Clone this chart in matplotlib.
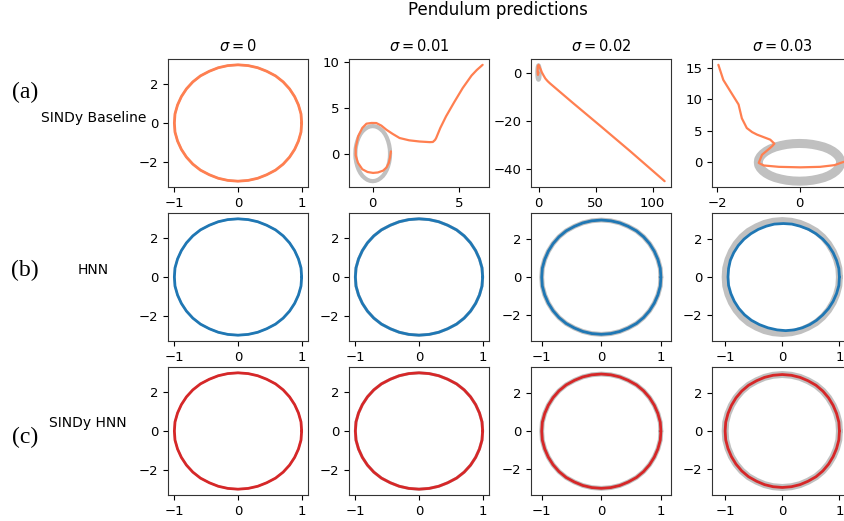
import numpy as np
import matplotlib
matplotlib.use("Agg")
import matplotlib.pyplot as plt
from matplotlib.ticker import MultipleLocator

# noise levels (column titles) and row labels
sigmas = ["0", "0.01", "0.02", "0.03"]
row_tags = ["(a)", "(b)", "(c)"]
row_names = ["SINDy Baseline", "HNN", "SINDy HNN"]

# true pendulum orbit (q, p)
orbit_q = [1.0, 0.99, 0.95, 0.89, 0.81, 0.71, 0.59, 0.45, 0.31, 0.16, 0.0,
           -0.16, -0.31, -0.45, -0.59, -0.71, -0.81, -0.89, -0.95, -0.99, -1.0,
           -0.99, -0.95, -0.89, -0.81, -0.71, -0.59, -0.45, -0.31, -0.16, 0.0,
           0.16, 0.31, 0.45, 0.59, 0.71, 0.81, 0.89, 0.95, 0.99, 1.0]
orbit_p = [0.0, 0.47, 0.93, 1.36, 1.76, 2.12, 2.43, 2.67, 2.85, 2.96, 3.0,
           2.96, 2.85, 2.67, 2.43, 2.12, 1.76, 1.36, 0.93, 0.47, 0.0,
           -0.47, -0.93, -1.36, -1.76, -2.12, -2.43, -2.67, -2.85, -2.96, -3.0,
           -2.96, -2.85, -2.67, -2.43, -2.12, -1.76, -1.36, -0.93, -0.47, 0.0]

# HNN at sigma=0.03 comes out a bit smaller
hnn03_q = [1.0, 0.99, 0.95, 0.89, 0.81, 0.71, 0.59, 0.46, 0.31, 0.17, 0.02,
           -0.14, -0.28, -0.42, -0.55, -0.67, -0.77, -0.85, -0.91, -0.94, -0.95,
           -0.94, -0.9, -0.84, -0.76, -0.66, -0.54, -0.4, -0.25, -0.09, 0.06,
           0.21, 0.35, 0.48, 0.6, 0.71, 0.81, 0.89, 0.95, 0.99, 1.0]
hnn03_p = [0.0, 0.45, 0.88, 1.29, 1.67, 2.01, 2.3, 2.53, 2.7, 2.81, 2.84,
           2.81, 2.7, 2.53, 2.3, 2.01, 1.67, 1.29, 0.88, 0.45, 0.0,
           -0.45, -0.88, -1.29, -1.67, -2.01, -2.3, -2.53, -2.7, -2.81, -2.85,
           -2.81, -2.7, -2.53, -2.3, -2.01, -1.67, -1.29, -0.88, -0.45, 0.0]

# SINDy baseline predictions that blow up
base01_q = [1.05, 1.0, 0.93, 0.8, 0.6, 0.3, 0.02, -0.3, -0.6, -0.85, -0.98, -0.98,
            -0.84, -0.6, -0.36, -0.07, 0.21, 0.5, 0.79, 1.15, 1.55, 2.1, 2.7,
            3.3, 3.47, 3.6, 3.66, 3.9, 4.23, 4.7, 5.19, 5.7, 6.0, 6.34]
base01_p = [0.25, -0.4, -1.0, -1.5, -1.85, -2.05, -2.1, -2.0, -1.7, -1.0, -0.2, 0.65,
            1.88, 2.8, 3.26, 3.34, 3.33, 3.05, 2.6, 2.15, 1.7, 1.45, 1.32,
            1.25, 1.27, 1.5, 1.7, 2.8, 4.06, 5.6, 7.14, 8.5, 9.1, 9.67]

base02_q = [0.0, -0.5, -0.8, -0.6, 0.0, 0.5, 1.0, 2.0, 3.0, 4.5, 6.0, 8.0,
            10.0, 30.0, 54.4, 80.0, 110.5]
base02_p = [0.0, -1.0, 0.5, 2.5, 3.2, 2.8, 2.2, 1.2, 0.0, -1.3, -2.5, -3.6,
            -4.5, -12.6, -22.3, -32.6, -45.2]

base03_q = [-1.97, -1.85, -1.68, -1.48, -1.4, -1.28, -1.15, -1.03, -0.85, -0.71,
            -0.61, -0.66, -0.71, -0.91, -0.99, -0.87, -0.5, 0.02, 0.5, 0.85, 1.04, 1.12]
base03_p = [15.5, 13.1, 11.3, 9.2, 7.0, 5.45, 4.8, 4.4, 3.95, 3.6,
            2.97, 2.6, 2.3, 1.2, -0.1, -0.5, -0.72, -0.8, -0.72, -0.45, 0.0, 0.15]

preds = [
    [(orbit_q, orbit_p), (base01_q, base01_p), (base02_q, base02_p), (base03_q, base03_p)],
    [(orbit_q, orbit_p), (orbit_q, orbit_p), (orbit_q, orbit_p), (hnn03_q, hnn03_p)],
    [(orbit_q, orbit_p), (orbit_q, orbit_p), (orbit_q, orbit_p), (orbit_q, orbit_p)],
]
row_colors = ["#ff7f50", "#1f77b4", "#d62728"]
noise_xlim = [None, None, (-1.18, 1.17), (-1.23, 1.22)]
noise_ylim = [None, None, (-3.35, 3.37), (-3.4, 3.4)]

W, H = 844, 521
fig = plt.figure(figsize=(W / 100, H / 100), dpi=100)

lefts = [168, 349, 531, 712]
tops = [59, 213, 367]
aw, ah = 140, 128

for r in range(3):
    for c in range(4):
        ax = fig.add_axes([lefts[c] / W, 1 - (tops[r] + ah) / H, aw / W, ah / H])
        if r == 0:
            lw_gray = [1.5, 3.0, 3.0, 6.5][c]
        else:
            lw_gray = [1.5, 2.2, 3.5, 5.0][c]
        ax.plot(orbit_q, orbit_p, color="#c0c0c0", lw=lw_gray,
                solid_joinstyle="round", solid_capstyle="round")
        q, p = preds[r][c]
        ax.plot(q, p, color=row_colors[r], lw=1.6 if r == 0 and c > 0 else 2.0,
                solid_capstyle="round")
        if r > 0 and noise_xlim[c] is not None:
            ax.set_xlim(*noise_xlim[c])
            ax.set_ylim(*noise_ylim[c])
        if r == 0 and c == 3:
            ax.xaxis.set_major_locator(MultipleLocator(2))
            ax.yaxis.set_major_locator(MultipleLocator(5))
        elif r > 0 or c == 0:
            ax.xaxis.set_major_locator(MultipleLocator(1))
        ax.tick_params(labelsize=9.5)
        for s in ax.spines.values():
            s.set_color("#333333")
        if r == 0:
            ax.set_title(r"$\sigma = %s$" % sigmas[c], fontsize=10.5)

for r in range(3):
    yc = [92, 270, 437][r]
    fig.text(25 / W, 1 - yc / H, row_tags[r], ha="center", va="center",
             fontsize=17, family="Liberation Serif")
    ny = [118, 270, 423][r]
    nx = [94, 93, 88][r]
    fig.text(nx / W, 1 - ny / H, row_names[r], ha="center", va="center", fontsize=10)

fig.text(498 / W, 1 - 10 / H, "Pendulum predictions", ha="center", va="center", fontsize=12)

fig.savefig("out.png", dpi=100)
